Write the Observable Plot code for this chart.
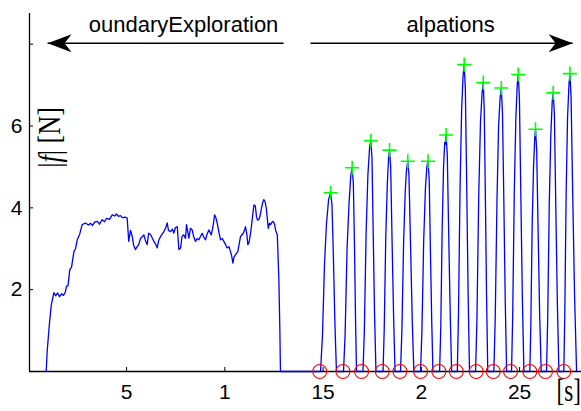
<!DOCTYPE html>
<html><head><meta charset="utf-8">
<script src="https://cdn.jsdelivr.net/npm/d3@7"></script>
<script src="https://cdn.jsdelivr.net/npm/@observablehq/plot@0.6"></script>
<style>body{margin:0;background:#fff} #chart svg{display:block}</style>
</head><body><div id="chart"></div>
<script>
// ---- axis ticks ----
const xTicks = [5, 10, 15, 20, 25];
const xTickLabels = ["5", "1", "15", "2", "25"];
const yTicks = [2, 4, 6, 8];
const yTickLabels = ["2", "4", "6", ""];
const xUnitLabel = "[s]";
const yLabel = "|f| [N]";

// ---- phase annotations ----
const phaseNames = ["oundaryExploration", "alpations"];
const phaseLabelT = [7.90, 21.49];
const phaseLabelF = [8.46, 8.46];
const arrowFromT = [12.99, 14.36];
const arrowToT = [0.98, 27.70];
const arrowF = [8.02, 8.02];
const arrowDir = [180, 0];

// ---- boundary exploration force trace ----
const explorationT = [0.91,0.96,1.08,1.17,1.30,1.39,1.49,1.59,1.69,1.79,
1.89,1.94,2.02,2.11,2.20,2.32,2.40,2.49,2.61,2.74,
2.91,3.06,3.17,3.27,3.37,3.51,3.62,3.76,3.88,3.98,
4.13,4.27,4.39,4.49,4.59,4.69,4.79,4.95,5.03,5.11,
5.20,5.29,5.35,5.45,5.53,5.62,5.71,5.81,5.88,5.96,
6.05,6.12,6.22,6.32,6.39,6.47,6.56,6.63,6.73,6.80,
6.90,6.98,7.07,7.13,7.24,7.34,7.40,7.49,7.58,7.66,
7.75,7.82,7.91,8.00,8.05,8.17,8.25,8.34,8.41,8.51,
8.59,8.68,8.76,8.85,8.93,9.02,9.09,9.19,9.31,9.40,
9.48,9.55,9.61,9.70,9.78,9.87,9.95,10.04,10.12,10.21,
10.29,10.35,10.41,10.47,10.54,10.66,10.80,10.94,11.00,11.05,
11.12,11.17,11.23,11.31,11.39,11.48,11.55,11.61,11.66,11.73,
11.79,11.85,11.92,11.98,12.05,12.11,12.16,12.21,12.27,12.33,
12.40,12.46,12.53,12.58,12.67,12.71,12.75,12.80,12.83];
const explorationF = [0,0.5,1.2,1.63,1.93,1.85,1.92,1.83,1.9,1.86,
1.95,2.08,2.1,2.49,2.55,2.93,3.0,3.22,3.35,3.59,
3.63,3.58,3.62,3.57,3.65,3.67,3.6,3.71,3.66,3.74,
3.72,3.83,3.80,3.85,3.79,3.81,3.76,3.77,3.75,3.18,
3.45,3.3,3.1,2.98,3.05,3.1,3.25,3.30,3.34,3.2,
3.1,3.38,3.35,3.25,3.18,3.12,3.02,3.2,3.3,3.35,
3.42,3.5,3.63,3.45,3.42,3.48,3.38,3.52,3.54,2.98,
3.02,3.3,3.34,3.25,3.59,3.26,3.5,3.46,3.3,3.18,
3.25,3.22,3.3,3.38,3.28,3.22,3.35,3.46,3.34,3.55,
3.83,3.75,3.63,3.4,3.22,3.25,3.18,3.1,3.02,3.05,
2.93,2.82,2.65,2.8,2.85,2.93,3.3,3.38,3.45,3.54,
3.35,3.1,3.15,3.38,3.7,4.07,4.05,3.79,3.7,3.71,
3.8,3.95,4.12,4.2,4.15,3.99,3.75,3.5,3.62,3.59,
3.65,3.67,3.6,3.46,3.34,2.8,2.24,1.02,0];

// ---- palpation force trace [t, f] ----
const palpationTrace = [
[14.87,0],[14.97,0.9],[15.07,2.6],[15.17,3.6],[15.28,4.2],[15.38,4.37],[15.45,4.1],[15.52,2.9],[15.60,1.2],[15.68,0],
[16.04,0],[16.12,0.9],[16.22,3.0],[16.32,4.1],[16.41,4.8],[16.48,4.98],[16.54,4.6],[16.60,3.0],[16.65,1.3],[16.70,0],
[17.03,0],[17.10,1.0],[17.19,3.4],[17.28,4.8],[17.37,5.5],[17.43,5.64],[17.49,5.2],[17.55,3.4],[17.62,1.4],[17.69,0],
[18.05,0],[18.11,1.0],[18.19,3.3],[18.27,4.6],[18.33,5.2],[18.38,5.41],[18.44,5.0],[18.51,3.2],[18.59,1.3],[18.66,0],
[18.94,0],[19.01,1.0],[19.10,3.2],[19.18,4.4],[19.24,4.9],[19.31,5.14],[19.37,4.8],[19.45,3.1],[19.54,1.2],[19.62,0],
[19.96,0],[20.03,1.0],[20.12,3.2],[20.21,4.5],[20.28,5.0],[20.34,5.14],[20.40,4.7],[20.46,3.0],[20.53,1.2],[20.59,0],
[20.93,0],[20.99,1.1],[21.06,3.5],[21.13,5.0],[21.19,5.6],[21.22,5.55],[21.26,5.78],[21.32,5.3],[21.39,3.4],[21.47,1.4],[21.54,0],
[21.83,0],[21.89,1.4],[21.97,4.5],[22.05,6.4],[22.12,7.2],[22.18,7.50],[22.24,6.9],[22.31,4.5],[22.38,1.9],[22.45,0],
[22.76,0],[22.83,1.3],[22.92,4.3],[23.01,6.1],[23.09,6.8],[23.15,7.06],[23.20,6.4],[23.26,4.2],[23.32,1.8],[23.38,0],
[23.69,0],[23.76,1.3],[23.85,4.2],[23.93,6.0],[24.01,6.7],[24.07,6.93],[24.13,6.3],[24.20,4.1],[24.27,1.7],[24.34,0],
[24.59,0],[24.65,1.4],[24.73,4.4],[24.81,6.2],[24.88,7.0],[24.93,7.26],[24.99,6.7],[25.06,4.4],[25.14,1.8],[25.22,0],
[25.52,0],[25.57,1.1],[25.64,3.6],[25.71,5.0],[25.77,5.7],[25.81,5.92],[25.87,5.4],[25.94,3.5],[26.02,1.4],[26.10,0],
[26.37,0],[26.43,1.3],[26.51,4.1],[26.59,5.8],[26.66,6.6],[26.71,6.81],[26.77,6.3],[26.84,4.1],[26.92,1.7],[27.00,0],
[27.25,0],[27.30,1.4],[27.37,4.4],[27.44,6.2],[27.51,7.0],[27.56,7.28],[27.62,6.7],[27.70,4.4],[27.80,1.8],[27.90,0]
];

// ---- detected peaks (green +) and contacts (red o) ----
const peakT = [15.38,16.48,17.43,18.38,19.31,20.34,21.26,22.18,23.15,24.07,24.93,25.81,26.71,27.56];
const peakF = [4.37,4.98,5.64,5.41,5.14,5.14,5.78,7.50,7.06,6.93,7.26,5.92,6.81,7.28];
const contactT = [14.83,16.01,16.96,18.01,18.91,19.96,20.89,21.78,22.79,23.66,24.54,25.52,26.32,27.25];
const contactF = [0,0,0,0,0,0,0,0,0,0,0,0,0,0];

const xDomain = [0.06, 28.15];
const yDomain = [0, 8.75];
const unitLabelPos = {t: 26.88, f: -0.46};
const yLabelPos = {t: 1.08, f: 5.72};

const trace = explorationT.map((t, i) => ({t, f: explorationF[i]}))
  .concat(palpationTrace.map(([t, f]) => ({t, f})));

const arrowHead = {
  draw(ctx) {
    ctx.moveTo(0, 0);
    ctx.lineTo(-24, -9);
    ctx.lineTo(-17, 0);
    ctx.lineTo(-24, 9);
    ctx.closePath();
  }
};

const serif = "'Liberation Serif', 'Times New Roman', serif";

const plot = Plot.plot({
  width: 581, height: 411,
  marginLeft: 29, marginRight: 0, marginTop: 13, marginBottom: 40,
  style: {fontFamily: "'Liberation Sans', Arial, sans-serif", color: "black", background: "white", overflow: "visible"},
  x: {domain: xDomain, label: null},
  y: {domain: yDomain, label: null},
  marks: [
    Plot.axisX({ticks: xTicks, tickFormat: d => xTickLabels[xTicks.indexOf(d)], tickSize: -4, tickPadding: 17, fontSize: 21, label: null, strokeWidth: 1}),
    Plot.axisY({ticks: yTicks, tickFormat: d => yTickLabels[yTicks.indexOf(d)], tickSize: -4, tickPadding: 11, fontSize: 21, label: null, strokeWidth: 1}),
    Plot.ruleY([yDomain[0]], {stroke: "black", strokeWidth: 1.3}),
    Plot.ruleX([xDomain[0]], {stroke: "black", strokeWidth: 1.3}),
    Plot.line(trace, {x: "t", y: "f", stroke: "#0000ff", strokeWidth: 1.3}),
    Plot.dot({length: contactT.length}, {x: contactT, y: contactF, r: 7, stroke: "#ff0000", strokeWidth: 1.1, fill: "none"}),
    Plot.dot({length: peakT.length}, {x: peakT, y: peakF, symbol: "plus", r: 4.6, stroke: "#00ff00", strokeWidth: 1.6}),
    Plot.link({length: 2}, {x1: arrowFromT, x2: arrowToT, y1: arrowF, y2: arrowF, stroke: "black", strokeWidth: 1.5}),
    Plot.dot({length: 2}, {x: arrowToT, y: arrowF, rotate: arrowDir, symbol: arrowHead, fill: "black", stroke: "none"}),
    Plot.text({length: 2}, {x: phaseLabelT, y: phaseLabelF, text: phaseNames, fontSize: 22, fill: "black"}),
    Plot.text([xUnitLabel], {x: () => unitLabelPos.t, y: () => unitLabelPos.f, text: d => d, fontSize: 32, fontFamily: serif, textAnchor: "start", fill: "black"}),
    Plot.text([yLabel], {x: () => yLabelPos.t, y: () => yLabelPos.f, text: d => d, fontSize: 32, fontFamily: serif, rotate: -90, fill: "black"})
  ]
});

const svg = d3.select(plot);
svg.selectAll("text").filter(function () { return this.textContent === yLabel; })
  .each(function () {
    const el = d3.select(this);
    el.text(null);
    el.append("tspan").text("|");
    el.append("tspan").attr("font-style", "italic").text("f");
    el.append("tspan").text("| [N]");
    const tr = el.attr("transform") || "";
    el.attr("transform", tr + " scale(0.82,1)");
  });
svg.selectAll("text").filter(function () { return this.textContent === xUnitLabel; })
  .each(function () {
    const el = d3.select(this);
    const tr = el.attr("transform") || "";
    el.attr("transform", tr + " scale(0.72,1)");
  });

document.getElementById("chart").appendChild(plot);
</script>
</body></html>
